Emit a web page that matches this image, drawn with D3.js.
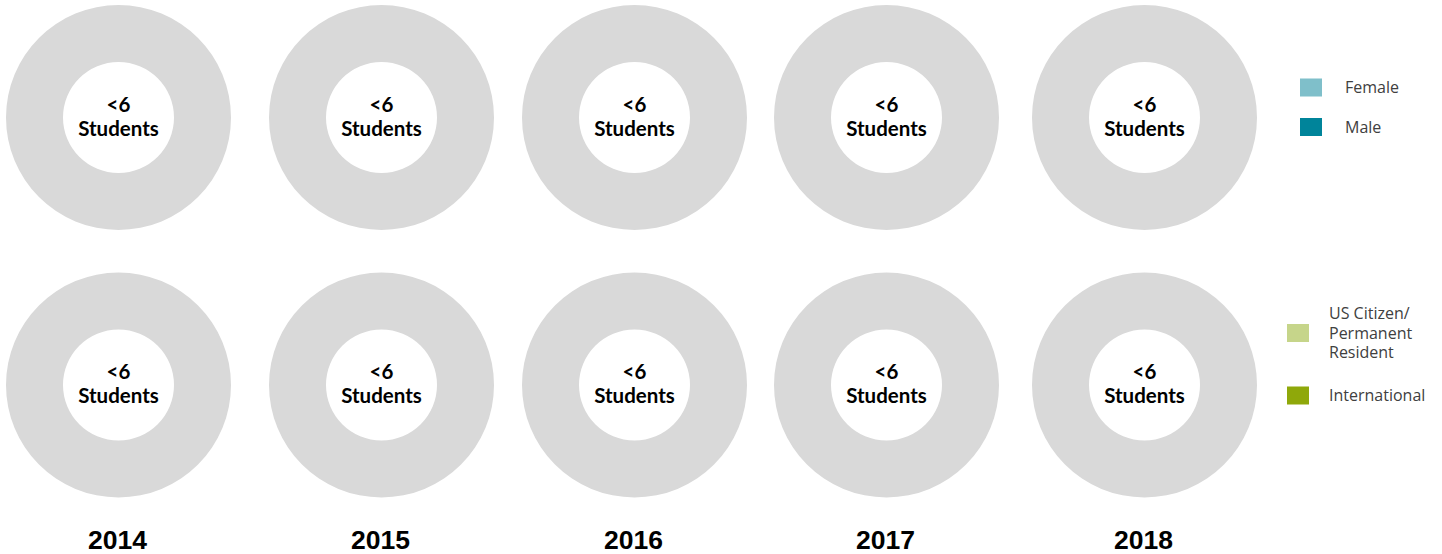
<!DOCTYPE html>
<html>
<head>
<meta charset="utf-8">
<script src="https://cdn.jsdelivr.net/npm/d3@7"></script>
<style>
  body { margin: 0; background: #fff; }
</style>
</head>
<body>
<div id="chart"></div>
<script>
var years = ["2014", "2015", "2016", "2017", "2018"];
var rows = ["gender", "residency"];
// counts are suppressed (<6 students) so every ring is one grey slice
var genderCounts = [null, null, null, null, null];
var residencyCounts = [null, null, null, null, null];
var centerLabel = ["<6", "Students"];

var genderKeys = ["Female", "Male"];
var genderColors = ["#7fbfca", "#00849a"];
var residencyKeys = ["US Citizen/\nPermanent\nResident", "International"];
var residencyColors = ["#c6d58a", "#8fa80a"];

var width = 1442, height = 554;

var svg = d3.select("#chart").append("svg")
  .attr("width", width)
  .attr("height", height);

// column centres (the original layout is not evenly spaced)
var xCol = d3.scaleOrdinal().domain(years).range([118.5, 381.5, 634.5, 886.5, 1144.5]);
var y = d3.scalePoint().domain(rows).range([117.5, 385]);

var arc = d3.arc().innerRadius(55.5).outerRadius(112.5);
var pie = d3.pie().value(function(d) { return d.v; }).sort(null);

function ringData(v) {
  if (v == null) return [{ v: 1, suppressed: true }];
  return v;
}

var cells = [];
rows.forEach(function(r) {
  var counts = r == "gender" ? genderCounts : residencyCounts;
  years.forEach(function(yr, i) {
    cells.push({ row: r, year: yr, value: counts[i] });
  });
});

var donut = svg.selectAll(".donut")
  .data(cells)
  .enter()
  .append("g")
  .attr("class", "donut")
  .attr("transform", function(d) { return "translate(" + xCol(d.year) + "," + y(d.row) + ")"; });

donut.selectAll("path")
  .data(function(d) { return pie(ringData(d.value)); })
  .enter()
  .append("path")
  .attr("d", arc)
  .attr("fill", "#d9d9d9");

donut.selectAll("text")
  .data(centerLabel)
  .enter()
  .append("text")
  .attr("text-anchor", "middle")
  .attr("y", function(d, i) { return -13 + i * 24; })
  .attr("dy", "0.35em")
  .style("font-family", "Lato, 'DejaVu Sans', sans-serif")
  .style("font-weight", "bold")
  .style("font-size", "20.5px")
  .style("fill", "#000")
  .text(function(d) { return d; });

// year labels
svg.selectAll(".year")
  .data(years)
  .enter()
  .append("text")
  .attr("class", "year")
  .attr("x", function(d) { return xCol(d) - 1; })
  .attr("y", 540)
  .attr("dy", "0.35em")
  .attr("text-anchor", "middle")
  .style("font-family", "'Liberation Sans', Arial, sans-serif")
  .style("font-weight", "bold")
  .style("font-size", "26.5px")
  .style("fill", "#000")
  .text(function(d) { return d; });

// legends
function legend(keys, colors, rx, tx, ys) {
  var g = svg.append("g");
  var item = g.selectAll(".legend")
    .data(keys)
    .enter()
    .append("g")
    .attr("class", "legend")
    .attr("transform", function(d, i) { return "translate(0," + ys[i] + ")"; });

  item.append("rect")
    .attr("x", rx)
    .attr("y", -9)
    .attr("width", 22)
    .attr("height", 18)
    .style("fill", function(d, i) { return colors[i]; });

  item.append("text")
    .attr("x", tx)
    .style("font-family", "'Open Sans', 'DejaVu Sans', sans-serif")
    .style("font-size", "16px")
    .style("fill", "#404040")
    .selectAll("tspan")
    .data(function(d) { var l = d.split("\n"); return l.map(function(t, j) { return { t: t, j: j, n: l.length }; }); })
    .enter()
    .append("tspan")
    .attr("x", tx)
    .attr("y", function(d) { return (d.j - (d.n - 1) / 2) * 19.5; })
    .attr("dy", "0.35em")
    .text(function(d) { return d.t; });
}

legend(genderKeys, genderColors, 1300, 1345, [87.5, 127]);
legend(residencyKeys, residencyColors, 1287, 1329, [333, 395.5]);
</script>
</body>
</html>
